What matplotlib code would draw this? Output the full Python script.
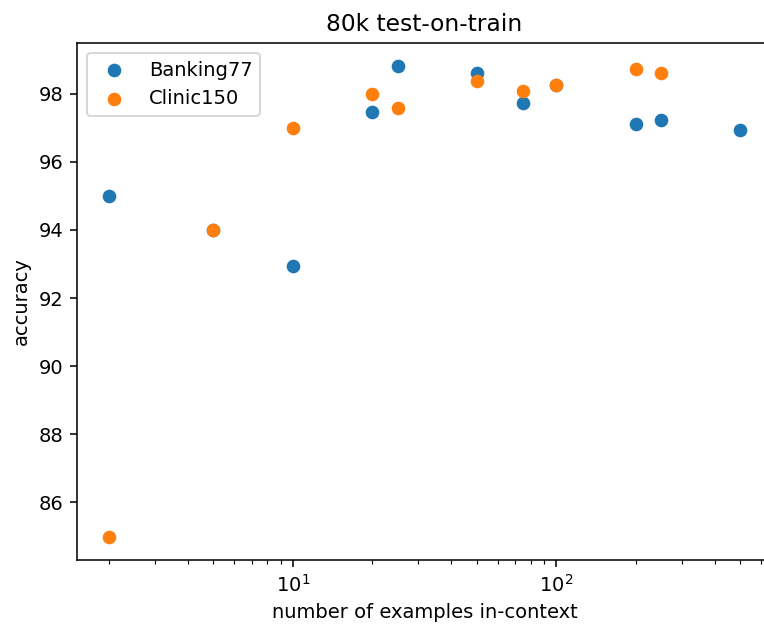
import matplotlib
matplotlib.use("Agg")
import matplotlib.pyplot as plt

banking_x = [2, 5, 10, 20, 25, 50, 75, 100, 200, 250, 500]
banking_y = [95.0, 94.0, 92.95, 97.47, 98.8, 98.6, 97.72, 98.25, 97.12, 97.23, 96.95]

clinic_x = [2, 5, 10, 20, 25, 50, 75, 100, 200, 250]
clinic_y = [85.0, 94.0, 96.98, 97.98, 97.57, 98.38, 98.08, 98.26, 98.72, 98.6]

dpi = 140
fig = plt.figure(figsize=(764 / dpi, 628 / dpi), dpi=dpi)
ax = fig.add_axes([77 / 764, (628 - 560) / 628, (772 - 77) / 764, (560 - 43) / 628])

ax.scatter(banking_x, banking_y, label="Banking77")
ax.scatter(clinic_x, clinic_y, label="Clinic150")
ax.set_xscale("log")
ax.set_title("80k test-on-train")
ax.set_xlabel("number of examples in-context")
ax.set_ylabel("accuracy")
ax.legend(loc="upper left")

fig.savefig("out.png", dpi=dpi)
